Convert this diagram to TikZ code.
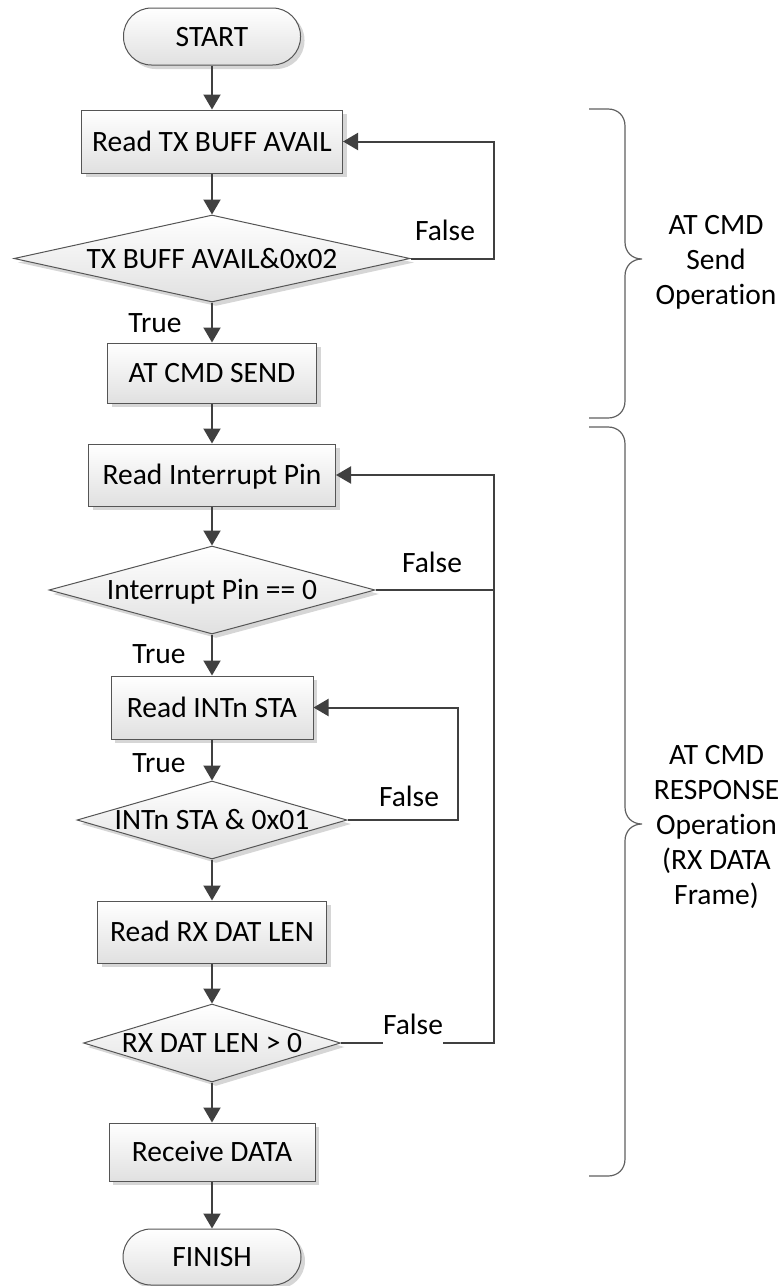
\documentclass[tikz,border=0pt]{standalone}
\usepackage{fontspec}
\setmainfont{Carlito}[Ligatures=NoCommon]
\usetikzlibrary{shapes.geometric,arrows.meta,shadows}
\definecolor{conn}{HTML}{404040}
\definecolor{bord}{HTML}{555555}
\definecolor{brc}{HTML}{606060}
\begin{document}
\begin{tikzpicture}[x=1pt,y=-1pt,
  every node/.style={font=\fontsize{29.5}{35}\selectfont},
  base/.style={draw=bord, line width=1pt, top color=white, bottom color=black!12,
    text height=19pt, text depth=0pt, inner sep=0pt,
    drop shadow={shadow xshift=4pt, shadow yshift=-4pt, fill=black!16, opacity=1}},
  proc/.style={base, rectangle},
  term/.style={base, rectangle, rounded corners=28pt},
  dec/.style={base, diamond},
  arr/.style={draw=conn, line width=2pt, -{Triangle[width=17pt,length=15pt]}},
  ln/.style={draw=conn, line width=2pt},
  lbl/.style={text height=19pt, text depth=0pt, inner sep=0pt},
  blk/.style={inner sep=0pt, align=center, anchor=north},
  bracestyle/.style={draw=brc, line width=1.2pt},
]
\path[use as bounding box] (0,0) rectangle (784,1286);

% nodes
\node[term, minimum width=177pt, minimum height=57pt] (start) at (212,36.5) {START};
\node[proc, minimum width=261pt, minimum height=63pt] (readtx) at (212,141.5) {Read TX BUFF AVAIL};
\node[dec, aspect=4.55, minimum width=396pt, minimum height=87pt] (d1) at (212,258.5) {TX BUFF AVAIL\&0x02};
\node[proc, minimum width=209pt, minimum height=60pt] (send) at (212,373) {AT CMD SEND};
\node[proc, minimum width=247pt, minimum height=62pt] (readint) at (212,475) {Read Interrupt Pin};
\node[dec, aspect=3.7, minimum width=326pt, minimum height=88pt] (d2) at (212,590) {Interrupt Pin == 0};
\node[proc, minimum width=202pt, minimum height=63pt] (readsta) at (212,707.5) {Read INTn STA};
\node[dec, aspect=3.46, minimum width=270pt, minimum height=78pt] (d3) at (212,820) {INTn STA \& 0x01};
\node[proc, minimum width=229pt, minimum height=62pt] (readlen) at (212,932) {Read RX DAT LEN};
\node[dec, aspect=3.3, minimum width=257pt, minimum height=78pt] (d4) at (212,1043) {RX DAT LEN > 0};
\node[proc, minimum width=206pt, minimum height=58pt] (recv) at (212,1152) {Receive DATA};
\node[term, minimum width=178pt, minimum height=56pt] (finish) at (212,1257) {FINISH};

% loop columns
\coordinate (outer) at (494,0);
\coordinate (inner) at (458,0);

% main flow
\draw[arr] (start) -- (readtx);
\draw[arr] (readtx) -- (d1);
\draw[arr] (d1) -- (send);
\draw[arr] (send) -- (readint);
\draw[arr] (readint) -- (d2);
\draw[arr] (d2) -- (readsta);
\draw[arr] (readsta) -- (d3);
\draw[arr] (d3) -- (readlen);
\draw[arr] (readlen) -- (d4);
\draw[arr] (d4) -- (recv);
\draw[arr] (recv) -- (finish);

% loops
\draw[arr] (d1.east) -- (d1.east -| outer) |- (readtx.east);
\draw[arr] (d4.east) -- (d4.east -| outer) |- (readint.east);
\draw[ln] (d2.east) -- (d2.east -| outer);
\draw[arr] (d3.east) -- (d3.east -| inner) |- (readsta.east);

% labels
\node[lbl] (t1) at (155,323) {True};
\node[lbl] (f1) at (445,231) {False};
\node[lbl] (f2) at (432,563) {False};
\node[lbl] (t2) at (159,653.5) {True};
\node[lbl] (t3) at (159,763) {True};
\node[lbl] (f3) at (409,797) {False};
\node[lbl, fill=white, text depth=10pt] (f4) at (413,1030) {False};

% braces
\draw[bracestyle] (589,109) -- (608,109) .. controls (618,109) and (625,116) .. (625,126)
  -- (625,242) .. controls (625,252) and (632,259) .. (642,259)
  .. controls (632,259) and (625,266) .. (625,276)
  -- (625,401) .. controls (625,411) and (618,418) .. (608,418) -- (589,418);
\draw[bracestyle] (589,427) -- (608,427) .. controls (618,427) and (625,434) .. (625,444)
  -- (625,807) .. controls (625,817) and (632,824) .. (642,824)
  .. controls (632,824) and (625,831) .. (625,841)
  -- (625,1159) .. controls (625,1169) and (618,1176) .. (608,1176) -- (589,1176);

\node[blk] (l1) at (716,215) {AT CMD\\Send\\Operation};
\node[blk] (l2) at (716.5,745) {AT CMD\\RESPONSE\\Operation\\(RX DATA\\Frame)};
\end{tikzpicture}
\end{document}
